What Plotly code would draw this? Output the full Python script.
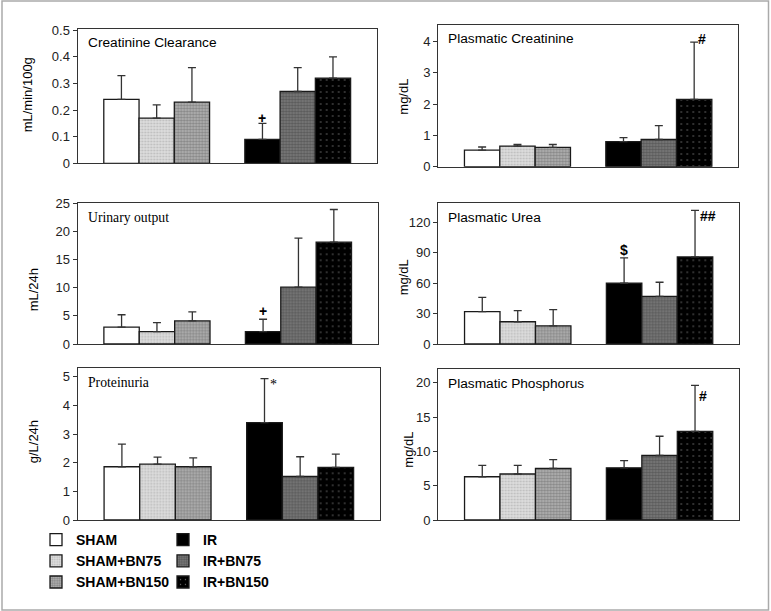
import plotly.graph_objects as go

# ---------------- data ----------------
series = ["SHAM", "SHAM+BN75", "SHAM+BN150", "IR", "IR+BN75", "IR+BN150"]
series_group = [0, 0, 0, 1, 1, 1]          # 0 = SHAM block, 1 = IR block

panel_titles = ["Creatinine Clearance", "Plasmatic Creatinine", "Urinary output",
                "Plasmatic Urea", "Proteinuria", "Plasmatic Phosphorus"]
panel_units = ["mL/min/100g", "mg/dL", "mL/24h", "mg/dL", "g/L/24h", "mg/dL"]

creat_clear_mean = [0.24, 0.17, 0.23, 0.09, 0.27, 0.32]
creat_clear_err = [0.09, 0.05, 0.13, 0.06, 0.09, 0.08]
plasma_creat_mean = [0.53, 0.66, 0.62, 0.80, 0.87, 2.15]
plasma_creat_err = [0.10, 0.05, 0.09, 0.13, 0.44, 1.83]
urine_mean = [3.0, 2.2, 4.1, 2.2, 10.1, 18.1]
urine_err = [2.2, 1.6, 1.6, 2.2, 8.7, 5.8]
urea_mean = [32, 22, 18, 60, 47, 86]
urea_err = [14, 11, 16, 25, 14, 46]
protein_mean = [1.86, 1.95, 1.86, 3.40, 1.52, 1.84]
protein_err = [0.79, 0.25, 0.31, 1.54, 0.69, 0.46]
phos_mean = [6.3, 6.7, 7.5, 7.6, 9.4, 12.9]
phos_err = [1.65, 1.25, 1.3, 1.05, 2.8, 6.7]

y_max = [0.505, 4.53, 25, 139, 5.3, 22]
y_dtick = [0.1, 1, 5, 30, 1, 5]

# significance marks: panel, series, text
sig_panel = [0, 1, 2, 3, 3, 4, 5]
sig_series = [3, 5, 3, 3, 5, 3, 5]
sig_text = ["+", "#", "+", "$", "##", "*", "#"]

# ---------------- layout helpers ----------------
means = [creat_clear_mean, plasma_creat_mean, urine_mean, urea_mean, protein_mean, phos_mean]
errs = [creat_clear_err, plasma_creat_err, urine_err, urea_err, protein_err, phos_err]

W, H = 771, 611
# plot boxes in pixels: (left, right, top, bottom)
boxes = [(77.7, 376.7, 29, 163.3), (438.3, 738, 25, 166.7),
         (77.7, 377.7, 203.3, 344), (438.3, 739, 203.3, 344),
         (77.7, 380, 368.3, 520), (438.3, 739, 369, 520)]
# y-title centers in pixels
ytitle_pos = [(28.3, 95), (402.7, 97), (33.3, 290), (403.3, 277), (33.3, 442), (407.7, 450)]
# significance mark offsets (px) relative to top of error bar
sig_dx = [0, 8, 0, 0, 13, 9, 8]
sig_dy = [5, 3, 8, 8, -6, -6, -11]
sig_font = ["Liberation Sans", "Liberation Sans", "Liberation Sans", "Liberation Sans",
            "Liberation Sans", "Liberation Serif", "Liberation Sans"]
title_font = ["Liberation Sans", "Liberation Sans", "Liberation Serif",
              "Liberation Sans", "Liberation Serif", "Liberation Sans"]

styles = [
    dict(color="white", pattern=None),
    dict(color="#dadada", pattern=dict(shape=".", fgcolor="#9a9a9a", bgcolor="#dddddd", size=3, solidity=0.35)),
    dict(color="#a8a8a8", pattern=dict(shape=".", fgcolor="#5a5a5a", bgcolor="#b4b4b4", size=3, solidity=0.5)),
    dict(color="black", pattern=None),
    dict(color="#707070", pattern=dict(shape=".", fgcolor="#3a3a3a", bgcolor="#7a7a7a", size=3, solidity=0.5)),
    dict(color="black", pattern=dict(shape=".", fgcolor="#e8e8e8", bgcolor="black", size=6, solidity=0.05)),
]

# x position of each bar from its group and rank within the group
within = [series_group[:i].count(series_group[i]) for i in range(len(series))]
xpos = [g * 4 + w + 1 for g, w in zip(series_group, within)]

fig = go.Figure()
for p in range(6):
    ax = "" if p == 0 else str(p + 1)
    for s, name in enumerate(series):
        st = styles[s]
        marker = dict(color=st["color"], line=dict(color="#1a1a1a", width=1.3))
        if st["pattern"]:
            marker["pattern"] = st["pattern"]
        fig.add_trace(go.Bar(
            x=[xpos[s]], y=[means[p][s]], width=1, name=name,
            marker=marker,
            error_y=dict(type="data", symmetric=False, array=[errs[p][s]], arrayminus=[0],
                         color="#333333", thickness=1.3, width=4),
            xaxis="x" + ax, yaxis="y" + ax,
            legend="legend" if series_group[s] == 0 else "legend2",
            showlegend=(p == 0),
        ))

layout = dict(width=W, height=H, margin=dict(l=0, r=0, t=0, b=0, autoexpand=False),
              paper_bgcolor="white", plot_bgcolor="white", barmode="overlay",
              font=dict(family="Liberation Sans", color="black"))
annotations = []
for p in range(6):
    ax = "" if p == 0 else str(p + 1)
    l, r, t, b = boxes[p]
    layout["xaxis" + ax] = dict(domain=[l / W, r / W], range=[-0.24, 8.24], showticklabels=False,
                                ticks="", showgrid=False, zeroline=False, showline=True, mirror=True,
                                linecolor="#333333", linewidth=1.3, anchor="y" + ax, fixedrange=True,
                                automargin=False)
    layout["yaxis" + ax] = dict(domain=[1 - b / H, 1 - t / H], range=[0, y_max[p]], dtick=y_dtick[p],
                                tick0=0, ticks="outside", ticklen=4, tickcolor="#333333",
                                tickfont=dict(size=13, color="#222222"), showgrid=False,
                                zeroline=False, showline=True, mirror=True, linecolor="#333333",
                                linewidth=1.3, anchor="x" + ax, automargin=False)
    annotations.append(dict(text=panel_titles[p], xref="x" + ax + " domain", yref="y" + ax + " domain",
                            x=0, y=1, xshift=8, yshift=-14, xanchor="left", yanchor="middle",
                            showarrow=False, font=dict(family=title_font[p], size=13.7, color="black")))
    tx, ty = ytitle_pos[p]
    annotations.append(dict(text=panel_units[p], xref="paper", yref="paper", x=tx / W, y=1 - ty / H,
                            textangle=-90, showarrow=False, xanchor="center", yanchor="middle",
                            font=dict(size=13, color="black")))

for k in range(len(sig_text)):
    p, s = sig_panel[k], sig_series[k]
    ax = "" if p == 0 else str(p + 1)
    annotations.append(dict(text="<b>" + sig_text[k] + "</b>" if sig_text[k] != "*" else "*",
                            x=xpos[s], y=means[p][s] + errs[p][s], xref="x" + ax, yref="y" + ax,
                            xshift=sig_dx[k], yshift=sig_dy[k], showarrow=False,
                            xanchor="center", yanchor="middle",
                            font=dict(family=sig_font[k], size=14, color="black")))

layout["annotations"] = annotations
layout["shapes"] = [dict(type="rect", xref="paper", yref="paper", x0=2 / W, x1=768.5 / W,
                         y0=1 - 610 / H, y1=1 - 1 / H, line=dict(color="#aaaaaa", width=1.5))]
leg = dict(xanchor="left", yanchor="top", bgcolor="rgba(0,0,0,0)", borderwidth=0,
           itemwidth=30, tracegroupgap=0, traceorder="normal",
           font=dict(family="Liberation Sans", size=14, color="black", weight="bold"))
layout["legend"] = dict(leg, x=36 / W, y=1 - 524 / H)
layout["legend2"] = dict(leg, x=163 / W, y=1 - 524 / H)
fig.update_layout(**layout)
fig.write_html("out.html", config={"displayModeBar": False},
               post_script="document.body.style.margin='0px';")
